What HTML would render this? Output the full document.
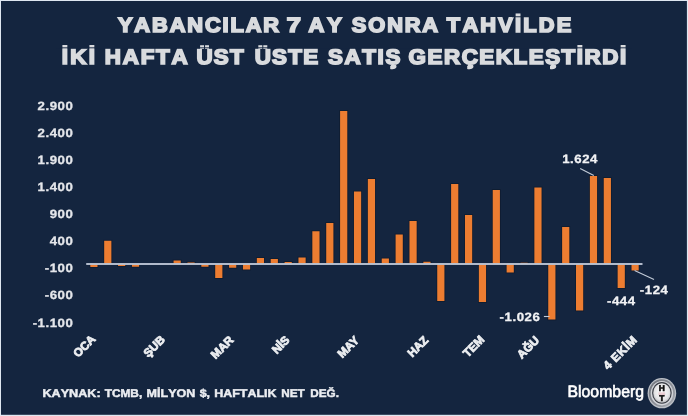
<!DOCTYPE html>
<html lang="tr">
<head>
<meta charset="utf-8">
<title>Yabancılar 7 ay sonra tahvilde iki hafta üst üste satış gerçekleştirdi</title>
<style>
  html, body { margin: 0; padding: 0; background: #dfe7f1; }
  body { width: 688px; height: 416px; overflow: hidden; }
  svg { display: block; will-change: transform; text-rendering: geometricPrecision; }
  text { font-family: "Liberation Sans", Arial, Helvetica, sans-serif; }
  .title text { font-kerning: none; font-weight: 700; fill: #d9dbde; stroke: #d9dbde; stroke-width: 1.7px; stroke-linejoin: miter; }
  .ylab text, .xlab text, .dlab text { font-weight: 700; font-size: 12px; fill: #e4e6ea; stroke: #e4e6ea; stroke-width: 0.3px; }
  .xlab text { font-size: 11.6px; stroke-width: 0.8px; fill: #eceef1; stroke: #eceef1; }
  .dlab text { font-size: 12px; fill: #f1f2f4; stroke: #f1f2f4; }
  .src { font-kerning: none; font-weight: 700; fill: #eceef2; stroke: #eceef2; stroke-width: 0.45px; }
  .bars rect { fill: #ed7d31; stroke: #0b1525; stroke-width: 1.6px; stroke-opacity: 0.6; paint-order: stroke; }
</style>
</head>
<body>
<svg width="688" height="416" viewBox="0 0 688 416">
  <defs>
    <radialGradient id="disk" cx="50%" cy="45%" r="60%">
      <stop offset="0" stop-color="#ffffff"/>
      <stop offset="0.7" stop-color="#e4e4e6"/>
      <stop offset="1" stop-color="#a9abb0"/>
    </radialGradient>
    <linearGradient id="ring" x1="0" y1="0" x2="1" y2="1">
      <stop offset="0" stop-color="#6f737b"/>
      <stop offset="0.55" stop-color="#8b8f97"/>
      <stop offset="1" stop-color="#a9adb4"/>
    </linearGradient>
  </defs>
  <rect x="0" y="0" width="688" height="416" fill="#dfe7f1"/>
  <rect x="1" y="1" width="685.9" height="413.8" fill="#14253f"/>

  <g class="title">
    <text transform="translate(0 32.2) scale(1.06 1)" y="0" font-size="20.6"><tspan x="111.24" textLength="152.08" lengthAdjust="spacing">YABANCILAR</tspan> <tspan x="270.49" textLength="13.37" lengthAdjust="spacingAndGlyphs">7</tspan> <tspan x="291.13" textLength="31.43" lengthAdjust="spacing">AY</tspan> <tspan x="331.95" textLength="81.39" lengthAdjust="spacing">SONRA</tspan> <tspan x="421.58" textLength="117.33" lengthAdjust="spacing">TAHVİLDE</tspan></text>
    <text transform="translate(0 63.65) scale(1.06 1)" y="0" font-size="21.1"><tspan x="58.20" textLength="31.46" lengthAdjust="spacing">İKİ</tspan> <tspan x="98.92" textLength="78.10" lengthAdjust="spacing">HAFTA</tspan> <tspan x="185.34" textLength="44.60" lengthAdjust="spacing">ÜST</tspan> <tspan x="240.26" textLength="59.98" lengthAdjust="spacing">ÜSTE</tspan> <tspan x="309.42" textLength="68.30" lengthAdjust="spacing">SATIŞ</tspan> <tspan x="385.46" textLength="205.27" lengthAdjust="spacing">GERÇEKLEŞTİRDİ</tspan></text>
  </g>
  <rect x="512" y="16.3" width="18" height="0.95" fill="#14253f"/>
  <rect x="56" y="47.35" width="576" height="0.95" fill="#14253f"/>

  <g class="ylab" transform="translate(73.4 -0.5) scale(1.1 1)" letter-spacing="0.5">
<text x="0" y="110.9" text-anchor="end">2.900</text>
<text x="0" y="137.9" text-anchor="end">2.400</text>
<text x="0" y="164.9" text-anchor="end">1.900</text>
<text x="0" y="191.9" text-anchor="end">1.400</text>
<text x="0" y="218.6" text-anchor="end">900</text>
<text x="0" y="245.6" text-anchor="end">400</text>
<text x="0" y="272.7" text-anchor="end">-100</text>
<text x="0" y="299.7" text-anchor="end">-600</text>
<text x="0" y="327.0" text-anchor="end">-1.100</text>
  </g>

  <g class="bars">
<rect x="90.30" y="264.00" width="7.20" height="3.00"/>
<rect x="104.18" y="240.75" width="7.20" height="23.25"/>
<rect x="118.05" y="264.00" width="7.20" height="2.00"/>
<rect x="131.93" y="264.00" width="7.20" height="2.75"/>
<rect x="173.56" y="260.50" width="7.20" height="3.50"/>
<rect x="187.44" y="262.50" width="7.20" height="1.50"/>
<rect x="201.32" y="264.00" width="7.20" height="2.75"/>
<rect x="215.19" y="264.00" width="7.20" height="14.00"/>
<rect x="229.07" y="264.00" width="7.20" height="3.75"/>
<rect x="242.95" y="264.00" width="7.20" height="5.50"/>
<rect x="256.82" y="258.00" width="7.20" height="6.00"/>
<rect x="270.70" y="259.00" width="7.20" height="5.00"/>
<rect x="284.58" y="262.00" width="7.20" height="2.00"/>
<rect x="298.45" y="257.50" width="7.20" height="6.50"/>
<rect x="312.33" y="231.25" width="7.20" height="32.75"/>
<rect x="326.21" y="223.00" width="7.20" height="41.00"/>
<rect x="340.09" y="111.00" width="7.20" height="153.00"/>
<rect x="353.96" y="191.50" width="7.20" height="72.50"/>
<rect x="367.84" y="179.00" width="7.20" height="85.00"/>
<rect x="381.72" y="258.50" width="7.20" height="5.50"/>
<rect x="395.59" y="234.50" width="7.20" height="29.50"/>
<rect x="409.47" y="221.00" width="7.20" height="43.00"/>
<rect x="423.35" y="261.75" width="7.20" height="2.25"/>
<rect x="437.23" y="264.00" width="7.20" height="37.00"/>
<rect x="451.10" y="184.00" width="7.20" height="80.00"/>
<rect x="464.98" y="215.00" width="7.20" height="49.00"/>
<rect x="478.86" y="264.00" width="7.20" height="38.00"/>
<rect x="492.73" y="190.00" width="7.20" height="74.00"/>
<rect x="506.61" y="264.00" width="7.20" height="8.50"/>
<rect x="520.49" y="262.75" width="7.20" height="1.25"/>
<rect x="534.36" y="187.50" width="7.20" height="76.50"/>
<rect x="548.24" y="264.00" width="7.20" height="55.50"/>
<rect x="562.12" y="227.00" width="7.20" height="37.00"/>
<rect x="576.00" y="264.00" width="7.20" height="46.50"/>
<rect x="589.87" y="176.00" width="7.20" height="88.00"/>
<rect x="603.75" y="178.00" width="7.20" height="86.00"/>
<rect x="617.63" y="264.00" width="7.20" height="24.00"/>
<rect x="631.50" y="264.00" width="7.20" height="6.50"/>
  </g>
  <rect x="86.2" y="263.05" width="556.3" height="1.9" fill="#b9c3d2"/>

  <g class="xlab">
<text x="96.3" y="339.9" text-anchor="end" transform="rotate(-45 96.3 339.9)">OCA</text>
<text x="165.7" y="340.4" text-anchor="end" transform="rotate(-45 165.7 340.4)">ŞUB</text>
<text x="234.3" y="340.8" text-anchor="end" transform="rotate(-45 234.3 340.8)">MAR</text>
<text x="290.3" y="340.8" text-anchor="end" transform="rotate(-45 290.3 340.8)">NİS</text>
<text x="359.7" y="341.1" text-anchor="end" transform="rotate(-45 359.7 341.1)">MAY</text>
<text x="429.0" y="340.9" text-anchor="end" transform="rotate(-45 429.0 340.9)">HAZ</text>
<text x="485.0" y="340.4" text-anchor="end" transform="rotate(-45 485.0 340.4)">TEM</text>
<text x="540.0" y="341.0" text-anchor="end" transform="rotate(-45 540.0 341.0)">AĞU</text>
<text x="637.6" y="340.8" text-anchor="end" textLength="41.8" lengthAdjust="spacing" transform="rotate(-45 637.6 340.8)">4 EKİM</text>
  </g>

  <g class="dlab" letter-spacing="0.5">
    <text transform="translate(562.2 162.5) scale(1.1 1)">1.624</text>
    <text transform="translate(499.6 320.6) scale(1.1 1)">-1.026</text>
    <text transform="translate(607.0 305.4) scale(1.1 1)">-444</text>
    <text transform="translate(639.8 293.9) scale(1.1 1)">-124</text>
  </g>
  <g stroke="#c3ccd8" stroke-width="1.1" fill="none">
    <line x1="580.2" y1="168.4" x2="593.8" y2="175.4"/>
    <line x1="543.9" y1="316.5" x2="549.5" y2="316.5"/>
    <line x1="634.6" y1="270.4" x2="654" y2="279.6"/>
  </g>

  <text class="src" transform="translate(0 396.9) scale(1.0 1)" y="0" font-size="11.2"><tspan x="42.46" textLength="58.16" lengthAdjust="spacingAndGlyphs">KAYNAK:</tspan> <tspan x="104.70" textLength="37.52" lengthAdjust="spacingAndGlyphs">TCMB,</tspan> <tspan x="146.61" textLength="48.74" lengthAdjust="spacingAndGlyphs">MİLYON</tspan> <tspan x="199.71" textLength="10.38" lengthAdjust="spacingAndGlyphs">$,</tspan> <tspan x="214.19" textLength="62.41" lengthAdjust="spacingAndGlyphs">HAFTALIK</tspan> <tspan x="281.26" textLength="23.44" lengthAdjust="spacingAndGlyphs">NET</tspan> <tspan x="310.29" textLength="28.61" lengthAdjust="spacingAndGlyphs">DEĞ.</tspan></text>

  <text x="567.5" y="397.3" font-size="16.5" fill="#ffffff" stroke="#ffffff" stroke-width="0.6" textLength="76.5" lengthAdjust="spacingAndGlyphs">Bloomberg</text>

  <g>
    <ellipse cx="661.9" cy="393.2" rx="14.3" ry="15.1" fill="#bcc0c7"/>
    <ellipse cx="661.9" cy="393.2" rx="13.1" ry="13.9" fill="url(#ring)"/>
    <ellipse cx="661.9" cy="393.2" rx="11.2" ry="12.2" fill="#d2d4d9"/>
    <ellipse cx="661.9" cy="392.9" rx="9.8" ry="10.9" fill="#383b43"/>
    <ellipse cx="661.9" cy="393.0" rx="8.7" ry="9.8" fill="url(#disk)"/>
    <g font-size="8.4" font-weight="700" text-anchor="middle" fill="#0a0a0a" stroke="#0a0a0a" stroke-width="0.6">
      <text x="661.8" y="391.1">H</text>
      <text x="661.9" y="401.2">T</text>
    </g>
    <rect x="658.4" y="392.75" width="6.8" height="0.5" fill="#cf7f8e"/>
    <rect x="658.4" y="393.9" width="6.8" height="0.5" fill="#cf7f8e"/>
  </g>
</svg>
</body>
</html>
